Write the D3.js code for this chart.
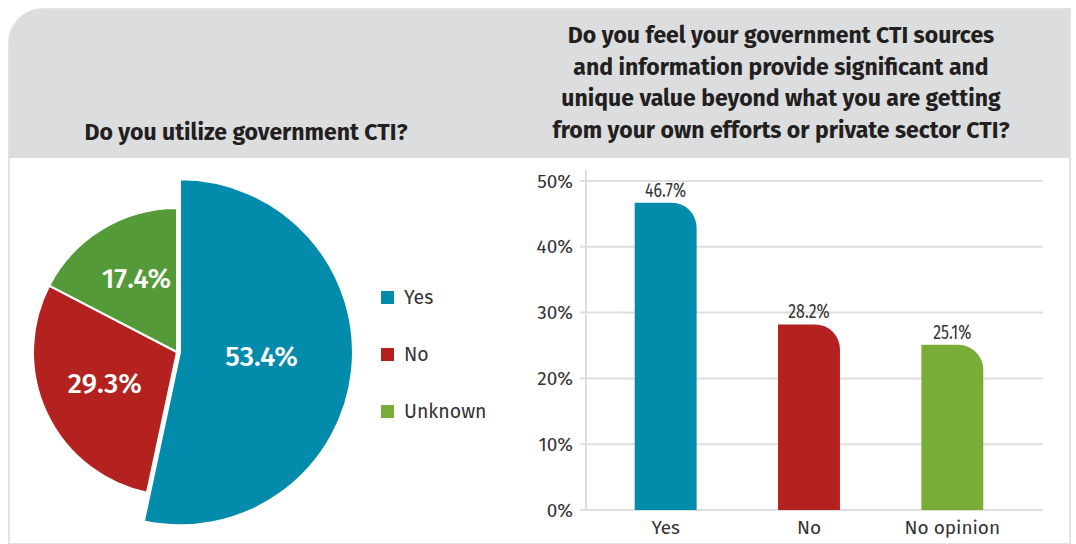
<!DOCTYPE html>
<html>
<head>
<meta charset="utf-8">
<script src="https://cdn.jsdelivr.net/npm/d3@7"></script>
<style>
  html, body { margin: 0; padding: 0; background: #fff; }
  svg { display: block; }
  text { font-family: 'Fira Sans', 'Noto Sans', sans-serif; }
</style>
</head>
<body>
<svg id="chart" width="1076" height="544"></svg>
<script>
const pieLabels = ['Yes', 'No', 'Unknown'];
const pieValues = [53.4, 29.3, 17.4];
const pieColors = ['#028bab', '#b3221e', '#559a38'];
const legendColors = ['#028bab', '#b3221e', '#7aad37'];

const barLabels = ['Yes', 'No', 'No opinion'];
const barValues = [46.7, 28.2, 25.1];
const barColors = ['#028bab', '#b3221e', '#7aad37'];
const yTicks = [0, 10, 20, 30, 40, 50];

const leftTitle = 'Do you utilize government CTI?';
const rightTitle = [
  'Do you feel your government CTI sources',
  'and information provide significant and',
  'unique value beyond what you are getting',
  'from your own efforts or private sector CTI?',
];

const svg = d3.select('#chart');

// panel background + header band
const panelPath = `M9,158 V43 A34,34 0 0 1 43,9 H1070 V544 H9 Z`;
svg.append('path').attr('d', panelPath).attr('fill', '#fff').attr('stroke', '#e4e4e4').attr('stroke-width', 2);
svg.append('path').attr('d', `M9,158 V43 A34,34 0 0 1 43,9 H1070 V158 Z`).attr('fill', '#dcdddf');

svg.append('text')
  .attr('x', 246).attr('y', 140)
  .attr('text-anchor', 'middle')
  .attr('font-size', 23).attr('font-weight', 700).attr('fill', '#231f20')
  .text(leftTitle);

svg.append('g')
  .selectAll('text')
  .data(rightTitle)
  .join('text')
  .attr('x', 781)
  .attr('y', (d, i) => 43 + i * 31.7)
  .attr('text-anchor', 'middle')
  .attr('font-size', 23).attr('font-weight', 700).attr('fill', '#231f20')
  .text((d) => d);

// pie
const pieData = d3.pie().sort(null).value((d) => d)(pieValues);
const cx = 177;
const cy = 352;
const pie = svg.append('g').attr('transform', `translate(${cx},${cy})`);
const radius = (i) => (i === 0 ? 173 : 144);
const labelArc = d3.arc().innerRadius(82).outerRadius(82);

pie.selectAll('path')
  .data(pieData)
  .join('path')
  .attr('transform', (d, i) => {
    if (i !== 0) return null;
    const a = (d.startAngle + d.endAngle) / 2;
    return `translate(${3 * Math.sin(a)},${-3 * Math.cos(a)})`;
  })
  .attr('d', (d, i) => d3.arc().innerRadius(0).outerRadius(radius(i))(d))
  .attr('fill', (d, i) => pieColors[i])
  .attr('stroke', '#fff')
  .attr('stroke-width', 2)
  .attr('stroke-linejoin', 'round');

pie.selectAll('text')
  .data(pieData)
  .join('text')
  .attr('transform', (d, i) => {
    const [x, y] = labelArc.centroid(d);
    return `translate(${x + (i === 0 ? 3 : 2)},${y - 4})`;
  })
  .attr('text-anchor', 'middle')
  .attr('dy', '0.35em')
  .attr('font-size', 28).attr('font-weight', 500).attr('fill', '#fff')
  .text((d) => `${d.data.toFixed(1)}%`);

const legend = svg.append('g').attr('transform', 'translate(381,297)');
const legendItems = legend.selectAll('g')
  .data(pieLabels)
  .join('g')
  .attr('transform', (d, i) => `translate(0,${i * 57})`);
legendItems.append('rect')
  .attr('x', 0).attr('y', -6).attr('width', 13).attr('height', 13)
  .attr('fill', (d, i) => legendColors[i]);
legendItems.append('text')
  .attr('x', 23).attr('dy', '0.35em')
  .attr('font-size', 19.5).attr('fill', '#333')
  .text((d) => d);

// bar chart
const axisX = 586;
const y = d3.scaleLinear().domain([0, 50]).range([510, 181]);
const x = d3.scaleBand().domain(barLabels).range([594, 1024]).paddingInner(0.568).paddingOuter(0.284);

const bars = svg.append('g');
bars.selectAll('line.grid')
  .data(yTicks)
  .join('line')
  .attr('class', 'grid')
  .attr('x1', 580).attr('x2', 1043)
  .attr('y1', (d) => y(d)).attr('y2', (d) => y(d))
  .attr('stroke', '#dedede').attr('stroke-width', 2);
bars.append('line')
  .attr('x1', axisX).attr('x2', axisX)
  .attr('y1', 170).attr('y2', 511)
  .attr('stroke', '#dedede').attr('stroke-width', 2);

bars.selectAll('text.ytick')
  .data(yTicks)
  .join('text')
  .attr('class', 'ytick')
  .attr('x', 573).attr('y', (d) => y(d))
  .attr('dy', '0.35em')
  .attr('text-anchor', 'end')
  .attr('font-size', 19).attr('fill', '#333')
  .text((d) => `${d}%`);

const barPath = (d, i) => {
  const x0 = x(barLabels[i]);
  const w = x.bandwidth();
  const y0 = y(d);
  const y1 = y(0);
  const r = 25;
  return `M${x0},${y1} V${y0} H${x0 + w - r} A${r},${r} 0 0 1 ${x0 + w},${y0 + r} V${y1} Z`;
};
bars.selectAll('path.bar')
  .data(barValues)
  .join('path')
  .attr('class', 'bar')
  .attr('d', barPath)
  .attr('fill', (d, i) => barColors[i]);

// value labels in a narrow face: squeeze horizontally
bars.selectAll('text.val')
  .data(barValues)
  .join('text')
  .attr('class', 'val')
  .attr('transform', (d, i) => `translate(${x(barLabels[i]) + x.bandwidth() / 2},${y(d) - 6}) scale(0.76,1)`)
  .attr('text-anchor', 'middle')
  .attr('font-size', 21).attr('fill', '#333')
  .text((d) => `${d.toFixed(1)}%`);

bars.selectAll('text.xlab')
  .data(barLabels)
  .join('text')
  .attr('class', 'xlab')
  .attr('x', (d) => x(d) + x.bandwidth() / 2)
  .attr('y', 527)
  .attr('dy', '0.35em')
  .attr('text-anchor', 'middle')
  .attr('font-size', 19).attr('fill', '#333')
  .text((d) => d);
</script>
</body>
</html>
